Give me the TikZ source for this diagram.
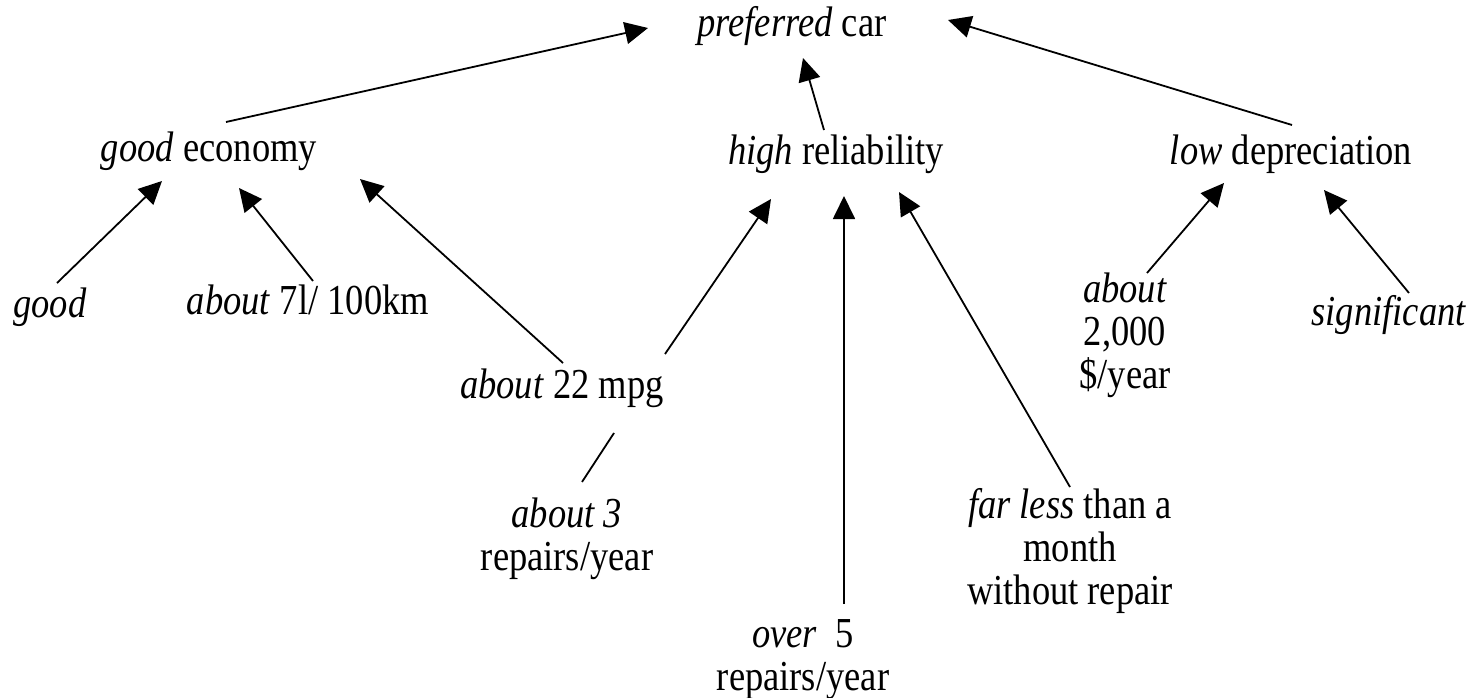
\documentclass[tikz,border=0pt]{standalone}
\usepackage{fontspec}
\setmainfont{Liberation Serif}
\usetikzlibrary{arrows.meta,calc}
\tikzset{
  lbl/.style={inner sep=0pt, anchor=base, align=center, yscale=1.17, font=\fontsize{36.5}{36.5}\selectfont},
  arr/.style={-{Triangle[length=23pt,width=22pt]}, line width=1.8pt},
  plain/.style={line width=1.8pt}
}
\begin{document}
\begin{tikzpicture}[x=1pt,y=-1pt]
\useasboundingbox (0,0) rectangle (1484,698);
\node[lbl] (pref) at (792,37) {\textit{preferred} car};
\node[lbl] (econ) at (209,161) {\textit{good} economy};
\node[lbl] (rel) at (836,165) {\textit{high} reliability};
\node[lbl] (dep) at (1291,165) {\textit{low} depreciation};
\node[lbl] (good) at (50,317) {\textit{good}};
\node[lbl] (sevenl) at (308,314) {\textit{about} 7l/ 100km};
\node[lbl] (mpg) at (562,398) {\textit{about} 22 mpg};
\node[lbl] (three) at (567,570) {\textit{about 3}\\repairs/year};
\node[lbl] (five) at (803,690) {\textit{over}\ \ 5\\repairs/year};
\node[lbl] (less) at (1070,604) {\textit{far less} than a\\month\\without repair};
\node[lbl] (dollar) at (1125,388) {\textit{about}\\2,000\\\$/year};
\node[lbl] (sig) at (1389,325) {\textit{significant}};

\draw[arr] ($(econ.base)+(17,-39)$) -- ($(pref.base)+(-144,-9)$);
\draw[arr] ($(rel.base)+(-12,-35)$) -- ($(pref.base)+(11,21)$);
\draw[arr] ($(dep.base)+(1,-40)$) -- ($(pref.base)+(156,-17)$);
\draw[arr] ($(good.base)+(7,-34)$) -- ($(econ.base)+(-47,20)$);
\draw[arr] ($(sevenl.base)+(5,-33)$) -- ($(econ.base)+(30,27)$);
\draw[arr] ($(mpg.base)+(1,-35)$) -- ($(econ.base)+(151,18)$);
\draw[arr] ($(mpg.base)+(103,-44)$) -- ($(rel.base)+(-65,34)$);
\draw[plain] ($(mpg.base)+(52,35)$) -- ($(three.base)+(15,-88)$);
\draw[arr] ($(five.base)+(41,-86)$) -- ($(rel.base)+(8,31)$);
\draw[arr] ($(less.base)+(0,-117)$) -- ($(rel.base)+(63,27)$);
\draw[arr] ($(dollar.base)+(22,-115)$) -- ($(dep.base)+(-67,18)$);
\draw[arr] ($(sig.base)+(20,-32)$) -- ($(dep.base)+(33,25)$);
\end{tikzpicture}
\end{document}
